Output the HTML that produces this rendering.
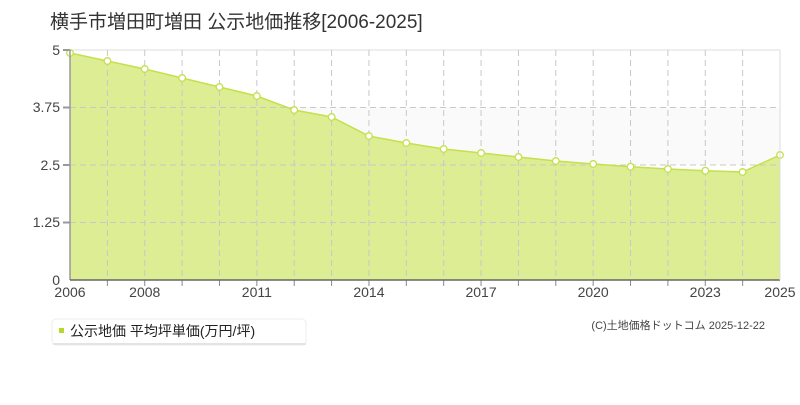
<!DOCTYPE html>
<html><head><meta charset="utf-8"><style>
body{margin:0;background:#fff;width:800px;height:400px;overflow:hidden;font-family:"Liberation Sans","Noto Sans CJK JP",sans-serif}
</style></head><body>
<svg width="800" height="400" xmlns="http://www.w3.org/2000/svg" font-family="Liberation Sans, Noto Sans CJK JP, sans-serif">
<text x="50" y="28" font-size="19" fill="#333">横手市増田町増田 公示地価推移[2006-2025]</text>
<rect x="70" y="107.5" width="710" height="57.5" fill="#fafafa"/>
<line x1="70" y1="50" x2="780" y2="50" stroke="#ddd"/>
<path id="area" fill="#dced94" stroke="none"/>
<g stroke="#c8c8c8" stroke-dasharray="6,4">
<line x1="70" y1="107.5" x2="780" y2="107.5"/><line x1="70" y1="165" x2="780" y2="165"/><line x1="70" y1="222.5" x2="780" y2="222.5"/>
</g>
<g stroke="#c8c8c8" stroke-dasharray="6,4" id="vg"></g>
<polyline id="ln" fill="none" stroke="#c5e04a" stroke-width="1.5"/>
<g id="dots"></g>
<g stroke="#888" id="vg2"></g>
<line x1="70" y1="50" x2="70" y2="280" stroke="#999" stroke-width="1.5"/>
<line x1="70" y1="280" x2="780" y2="280" stroke="#666" stroke-width="1.5"/>
<line x1="780" y1="50" x2="780" y2="280" stroke="#ddd"/>
<g stroke="#999" stroke-width="2"><line x1="63" y1="50" x2="70" y2="50"/><line x1="63" y1="107.5" x2="70" y2="107.5"/><line x1="63" y1="165" x2="70" y2="165"/><line x1="63" y1="222.5" x2="70" y2="222.5"/></g>
<g font-size="14" fill="#444" text-anchor="end">
<text x="60" y="55">5</text><text x="60" y="112">3.75</text><text x="60" y="170">2.5</text><text x="60" y="227">1.25</text><text x="60" y="285">0</text>
</g>
<g id="xt" font-size="14" fill="#444" text-anchor="middle"></g>
<rect x="52" y="319" width="254" height="26" rx="4" fill="#fff" stroke="#eee"/>
<rect x="53" y="343" width="253" height="2" fill="#e4e4e4"/>
<rect x="59" y="328" width="5" height="5" fill="#b5d92a"/>
<text x="70" y="336" font-size="14" fill="#222">公示地価 平均坪単価(万円/坪)</text>
<text x="765" y="329" font-size="11" fill="#444" text-anchor="end">(C)土地価格ドットコム 2025-12-22</text>
<script>
var ys=[53,61,69,78,87,96,110,117,136,143,149,153,157,161,164,166.7,169,170.7,172,155];
var dx=710/19,pts=[],ns="http://www.w3.org/2000/svg";
for(var i=0;i<20;i++){var x=70+i*dx;pts.push(x.toFixed(1)+","+ys[i]);
 if(i>0&&i<19){var l=document.createElementNS(ns,"line");l.setAttribute("x1",x);l.setAttribute("x2",x);l.setAttribute("y1",50);l.setAttribute("y2",280);document.getElementById("vg").appendChild(l);
 var t=document.createElementNS(ns,"line");t.setAttribute("x1",x);t.setAttribute("x2",x);t.setAttribute("y1",280);t.setAttribute("y2",286);document.getElementById("vg2").appendChild(t);}
 var y=2006+i;if([2006,2008,2011,2014,2017,2020,2023,2025].indexOf(y)>=0){var tx=document.createElementNS(ns,"text");tx.setAttribute("x",x);tx.setAttribute("y",297);tx.textContent=y;document.getElementById("xt").appendChild(tx);}
}
document.getElementById("area").setAttribute("d","M70,280 L"+pts.join(" L")+" L780,280 Z");
document.getElementById("ln").setAttribute("points",pts.join(" "));
for(var i=0;i<20;i++){var c=document.createElementNS(ns,"circle");var p=pts[i].split(",");c.setAttribute("cx",p[0]);c.setAttribute("cy",p[1]);c.setAttribute("r",3.3);c.setAttribute("fill","#fff");c.setAttribute("stroke","#c5e04a");c.setAttribute("stroke-width","1.3");document.getElementById("dots").appendChild(c);}
</script>
</svg>
</body></html>
